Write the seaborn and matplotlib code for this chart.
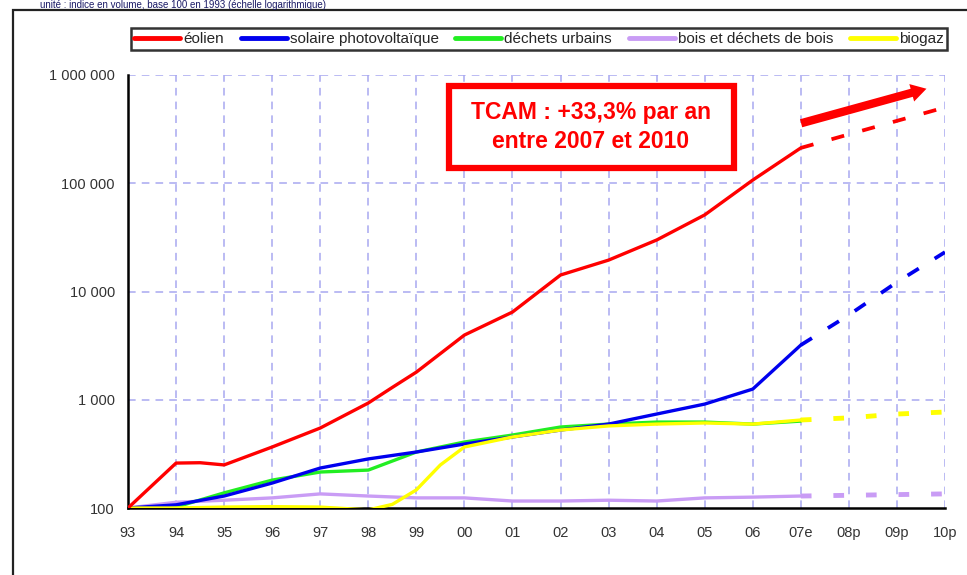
import numpy as np
import pandas as pd
import matplotlib
matplotlib.use("Agg")
import matplotlib.pyplot as plt
import seaborn as sns
from matplotlib.patches import Rectangle
from matplotlib.ticker import FixedLocator, NullLocator

# Données (indice base 100 en 1993, échelle log)
tick_labels = ["93", "94", "95", "96", "97", "98", "99", "00", "01", "02",
               "03", "04", "05", "06", "07e", "08p", "09p", "10p"]

annees = [0, 1, 1.5, 2, 3, 4, 5, 5.5, 6, 7, 8, 9, 10, 11, 12, 13, 14]
eolien = [100, 260, 262, 250, 366, 548, 933, 1300, 1800, 3960, 6460, 14200,
          19500, 29900, 51000, 107000, 212000]
annees_sol = [0, 1, 2, 3, 4, 5, 6, 7, 8, 9, 10, 11, 12, 13, 14]
solaire = [100, 107, 129, 170, 234, 284, 329, 390, 453, 525, 596, 738, 912,
           1255, 3200]
dechets = [100, 102, 138, 181, 215, 224, 329, 407, 472, 560, 596, 622, 622,
           596, 635]
bois = [100, 113, 118, 124, 135, 129, 124, 124, 116, 116, 118, 116, 124,
        126, 129]
annees_bio = [0, 1, 2, 3, 4, 5, 5.5, 6, 6.5, 7, 8, 9, 10, 11, 12, 13, 14]
biogaz = [100, 100, 102, 103, 102, 96, 108, 147, 250, 366, 453, 525, 573,
          596, 610, 596, 650]

# Projections 2007-2010
annees_proj = [14, 15, 16, 17]
eolien_proj = [212000, 283000, 377000, 502000]
solaire_proj = [3200, 6070, 12200, 23100]
bois_proj = [129, 131, 133, 135]
biogaz_proj = [650, 680, 738, 770]

couleurs = {
    "éolien": "#ff0000",
    "solaire photovoltaïque": "#0000ee",
    "déchets urbains": "#22ee22",
    "bois et déchets de bois": "#c99cf5",
    "biogaz": "#ffff00",
}

sns.set_style("white")
plt.rcParams["font.family"] = ["Liberation Sans", "DejaVu Sans"]

fig = plt.figure(figsize=(9.67, 5.75), dpi=100)
ax = fig.add_axes([128 / 967, 1 - 508 / 575, (945 - 128) / 967, (508 - 75) / 575])
ax.set_yscale("log")

# grille pointillée
grid_c = "#a8a8f0"
for i in range(len(tick_labels)):
    ax.axvline(i, color=grid_c, ls=(0, (5, 4)), lw=1.1, zorder=0)
for v in [1000, 10000, 100000, 1000000]:
    ax.axhline(v, color=grid_c, ls=(0, (5, 4)), lw=1.1, zorder=0)

lw = 2.4
series = [
    ("bois et déchets de bois", annees_sol, bois),
    ("déchets urbains", annees_sol, dechets),
    ("solaire photovoltaïque", annees_sol, solaire),
    ("biogaz", annees_bio, biogaz),
    ("éolien", annees, eolien),
]
for nom, xs, ys in series:
    sns.lineplot(x=xs, y=ys, ax=ax, color=couleurs[nom], lw=lw, zorder=3)

projs = [
    ("bois et déchets de bois", bois_proj, (0, (2.2, 4.5)), 3.5),
    ("biogaz", biogaz_proj, (0, (2.2, 4.5)), 3.5),
    ("solaire photovoltaïque", solaire_proj, (0, (3.5, 5)), 2.7),
    ("éolien", eolien_proj, (0, (3.5, 5)), 2.7),
]
for nom, ys, style, w in projs:
    sns.lineplot(x=annees_proj, y=ys, ax=ax, color=couleurs[nom], lw=w,
                 ls=style, zorder=3)

ax.set_xlim(0, 17)
ax.set_ylim(100, 1000000)
ax.xaxis.set_major_locator(FixedLocator(range(len(tick_labels))))
ax.set_xticklabels(tick_labels, fontsize=10.5, color="#333333")
ax.yaxis.set_major_locator(FixedLocator([100, 1000, 10000, 100000, 1000000]))
ax.yaxis.set_minor_locator(NullLocator())
ax.set_yticklabels(["100", "1 000", "10 000", "100 000", "1 000 000"],
                   fontsize=10.5, color="#333333")
ax.tick_params(axis="both", direction="out", length=6, width=1.5, color="black")
ax.tick_params(axis="x", pad=7)
for s in ["top", "right"]:
    ax.spines[s].set_visible(False)
for s in ["left", "bottom"]:
    ax.spines[s].set_color("black")
    ax.spines[s].set_linewidth(1.8)
ax.set_xlabel("")
ax.set_ylabel("")

# encadré TCAM
fig.patches.append(Rectangle((449 / 967, 1 - 168 / 575), (734 - 449) / 967,
                             (168 - 86) / 575, transform=fig.transFigure,
                             fill=True, facecolor="white", edgecolor="#ff0000",
                             lw=4.5, zorder=5))
fig.text(591 / 967, 1 - 127 / 575, "TCAM : +33,3% par an\nentre 2007 et 2010",
         ha="center", va="center", color="#ff0000", fontsize=16.5,
         fontweight="bold", linespacing=1.35, zorder=6)

# flèche
ax.annotate("", xy=(16.67, 10 ** (2 + (508 - 88) / 108.25)),
            xytext=(13.95, 10 ** (2 + (508 - 124) / 108.25)),
            arrowprops=dict(arrowstyle="simple,head_width=1.3,head_length=1.1,tail_width=0.6",
                            color="#ff0000", lw=0), zorder=6,
            annotation_clip=False)

# légende
handles = [plt.Line2D([], [], color=couleurs[n], lw=3.5) for n in couleurs]
leg = fig.legend(handles, list(couleurs.keys()), loc="center",
                 bbox_to_anchor=(539 / 967, 1 - 39 / 575), ncol=5, frameon=True,
                 fontsize=11, handlelength=3.0, handletextpad=0.2,
                 columnspacing=1.1, borderpad=0.25, fancybox=False)
leg.get_frame().set_edgecolor("black")
leg.get_frame().set_linewidth(1.8)

# cadre extérieur
fig.patches.append(Rectangle((13 / 967, -0.05), 1.0, 1 - 10 / 575 + 0.05,
                             transform=fig.transFigure, fill=False,
                             edgecolor="#222222", lw=1.6))

# titre en haut
fig.text(40 / 967, 1 - 0.5 / 575,
         "unité : indice en volume, base 100 en 1993 (échelle logarithmique)",
         ha="left", va="top", fontsize=7, color="#1a1a66")

fig.savefig("out.png", dpi=100)
